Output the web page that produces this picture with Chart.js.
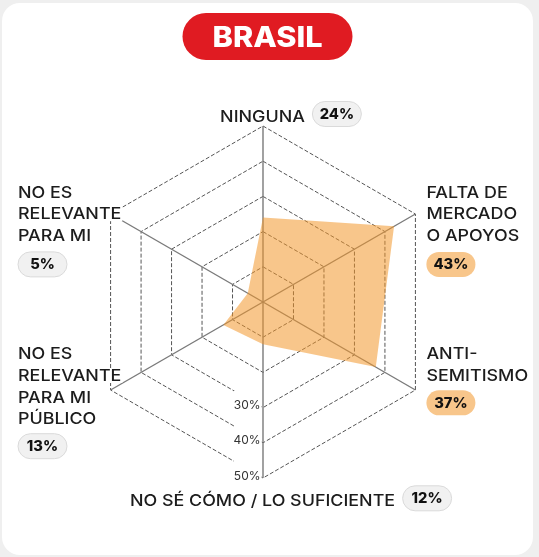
<!DOCTYPE html>
<html><head><meta charset="utf-8">
<script src="https://cdn.jsdelivr.net/npm/chart.js@4/dist/chart.umd.min.js"></script>
<style>
html,body{margin:0;padding:0;background:#efefef;width:539px;height:557px;overflow:hidden}
#card{position:absolute;left:2px;top:3px;width:531px;height:552px;background:#fff;border-radius:18px}
#wrap{position:absolute;left:0;top:0;width:539px;height:557px}
canvas{display:block}
</style></head><body>
<div id="card"></div>
<div id="wrap"><canvas id="c" width="539" height="557"></canvas></div>
<script>
const title = 'BRASIL';
const categories = [
  ['NINGUNA'],
  ['FALTA DE', 'MERCADO', 'O APOYOS'],
  ['ANTI-', 'SEMITISMO'],
  ['NO SÉ CÓMO / LO SUFICIENTE'],
  ['NO ES', 'RELEVANTE', 'PARA MI', 'PÚBLICO'],
  ['NO ES', 'RELEVANTE', 'PARA MI']
];
const values = [24, 43, 37, 12, 13, 5];
const tickValues = [30, 40, 50];
const tickLabels = ['30%', '40%', '50%'];

const FONT = 'Inter, "Open Sans", sans-serif';
const ORANGE = '#f8c68b';
// reference text widths used to stretch the substitute font (Montserrat-like width)
const widthRefs = [['RELEVANTE', 110], ['SEMITISMO', 91.7], ['NO SÉ CÓMO / LO SUFICIENTE', 268.4], ['NINGUNA', 84], ['MERCADO', 91.7]];

function rr(ctx, x, y, w, h, rad) {
  ctx.beginPath();
  ctx.roundRect(x, y, w, h, rad);
}

function wideText(ctx, text, x, y, s, align) {
  const w = ctx.measureText(text).width * s;
  const lx = align === 'left' ? x : x - w / 2;
  ctx.save();
  ctx.translate(lx, y);
  ctx.scale(s, 1);
  ctx.textAlign = 'left';
  ctx.fillText(text, 0, 0);
  ctx.restore();
  return w;
}

function pill(ctx, x, y, text, hi) {
  const w = 49, h = 25;
  rr(ctx, x, y, w, h, h / 2);
  if (hi) {
    ctx.fillStyle = ORANGE; ctx.fill();
  } else {
    ctx.fillStyle = '#f1f1f1'; ctx.fill();
    ctx.strokeStyle = '#dadada'; ctx.lineWidth = 1; ctx.stroke();
  }
  ctx.font = '800 14px ' + FONT;
  ctx.fillStyle = '#111';
  ctx.textBaseline = 'alphabetic';
  wideText(ctx, text, x + w / 2, y + h / 2 + 5, 1.05, 'center');
}

const labelPlugin = {
  id: 'customLabels',
  afterDraw(chart) {
    const ctx = chart.ctx;
    const r = chart.scales.r;
    const cx = r.xCenter;
    ctx.save();
    ctx.textBaseline = 'alphabetic';

    // title pill
    const tcx = 267.5;
    rr(ctx, tcx - 85, 13, 170, 47, 23.5);
    ctx.fillStyle = '#e01b22';
    ctx.fill();
    ctx.font = '800 28px ' + FONT;
    const tw0 = ctx.measureText(title).width;
    ctx.fillStyle = '#fff';
    wideText(ctx, title, tcx, 47, 110 / tw0, 'center');

    // tick labels
    ctx.font = '400 12px ' + FONT;
    tickValues.forEach((tv, k) => {
      const p = r.getPointPositionForValue(3, tv);
      ctx.fillStyle = '#fff';
      ctx.fillRect(p.x - 29, p.y - 17, 27.5, 22);
      ctx.fillStyle = '#333';
      ctx.textAlign = 'right';
      ctx.fillText(tickLabels[k], p.x - 2.5, p.y + 1.5);
    });

    // category labels
    ctx.font = '500 16px ' + FONT;
    let sumT = 0, sumM = 0;
    widthRefs.forEach(([t, w]) => { sumT += w; sumM += ctx.measureText(t).width; });
    const s = sumT / sumM;
    const LH = 21.7;
    const sorted = [...values].sort((a, b) => b - a);
    const hiOf = v => v >= sorted[1];

    const drawLines = (lines, x, y0, align) => {
      lines.forEach((ln, k) => {
        const y = y0 + k * LH;
        const w = ctx.measureText(ln).width * s;
        const lx = align === 'left' ? x : x - w / 2;
        ctx.fillStyle = '#fff';
        ctx.fillRect(lx - 2, y - 12.5, w + 3, 14.5);
        ctx.fillStyle = '#1c1c1c';
        wideText(ctx, ln, x, y, s, align);
      });
    };

    categories.forEach((lines, i) => {
      const v = r.getPointPositionForValue(i, r.max);
      const txt = values[i] + '%';
      const hi = hiOf(values[i]);
      ctx.font = '500 16px ' + FONT;
      if (i === 0 || i === 3) {
        const by = i === 0 ? v.y - 4.3 : v.y + 28;
        const w = ctx.measureText(lines[0]).width * s;
        const x = cx - 0.5;
        drawLines(lines, x, by, 'center');
        pill(ctx, x + w / 2 + 7.5, by - 20.2, txt, hi);
      } else {
        const right = v.x > cx;
        const x = right ? v.x + 11 : 18;
        const upper = v.y < r.yCenter;
        const y0 = upper ? v.y - 16.5 : v.y - 30.7;
        drawLines(lines, x, y0, 'left');
        const lastB = y0 + (lines.length - 1) * LH;
        pill(ctx, x, lastB + (upper ? 11 : 9.3), txt, hi);
      }
    });
    ctx.restore();
  }
};

new Chart(document.getElementById('c'), {
  type: 'radar',
  data: {
    labels: categories.map(l => l.join(' ')),
    datasets: [{
      data: values,
      backgroundColor: 'rgba(242,150,40,0.54)',
      borderWidth: 0,
      pointRadius: 0,
      fill: true,
      tension: 0
    }]
  },
  options: {
    responsive: false,
    animation: false,
    devicePixelRatio: 1,
    layout: { padding: { left: 87, top: 126, right: 100, bottom: 79 } },
    plugins: { legend: { display: false }, tooltip: { enabled: false } },
    scales: {
      r: {
        min: 0, max: 50,
        ticks: { stepSize: 10, display: false },
        pointLabels: { display: false },
        grid: { color: '#555', lineWidth: 1, circular: false },
        border: { dash: [4, 2] },
        angleLines: { color: '#7a7a7a', lineWidth: 1.4 }
      }
    }
  },
  plugins: [labelPlugin]
});
</script>
</body></html>
